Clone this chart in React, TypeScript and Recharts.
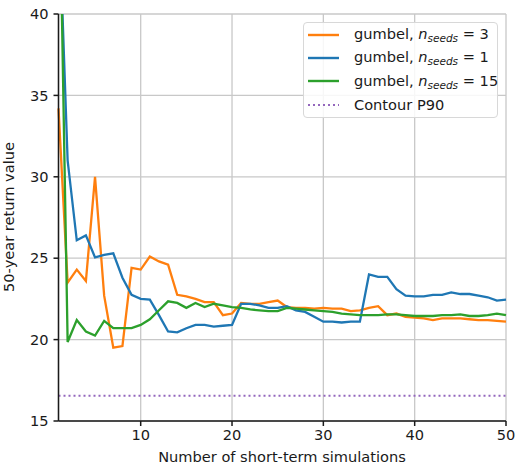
import { Line, LineChart, XAxis, YAxis, CartesianGrid, ReferenceLine } from "recharts"

// number of short-term simulations
const simulations = [
  1, 2, 3, 4, 5, 6, 7, 8, 9, 10,
  11, 12, 13, 14, 15, 16, 17, 18, 19, 20,
  21, 22, 23, 24, 25, 26, 27, 28, 29, 30,
  31, 32, 33, 34, 35, 36, 37, 38, 39, 40,
  41, 42, 43, 44, 45, 46, 47, 48, 49, 50,
]

// gumbel, n_seeds = 3
const seeds3 = [
  34.2, 23.5, 24.3, 23.6, 30.0, 22.7, 19.5, 19.6, 24.4, 24.3,
  25.1, 24.8, 24.6, 22.75, 22.65, 22.5, 22.3, 22.3, 21.5, 21.6,
  22.25, 22.2, 22.2, 22.3, 22.4, 22.0, 21.95, 21.95, 21.9, 21.95,
  21.9, 21.9, 21.75, 21.8, 21.95, 22.05, 21.5, 21.6, 21.4, 21.35,
  21.3, 21.2, 21.3, 21.3, 21.3, 21.25, 21.2, 21.2, 21.15, 21.1,
]

// gumbel, n_seeds = 1
const seeds1 = [
  47.0, 31.0, 26.1, 26.4, 25.05, 25.2, 25.3, 23.8, 22.75, 22.5,
  22.45, 21.5, 20.5, 20.45, 20.7, 20.9, 20.9, 20.8, 20.85, 20.9,
  22.2, 22.2, 22.1, 21.95, 21.95, 22.05, 21.8, 21.7, 21.4, 21.1,
  21.1, 21.05, 21.1, 21.1, 24.0, 23.85, 23.85, 23.1, 22.7, 22.65,
  22.65, 22.75, 22.75, 22.9, 22.8, 22.8, 22.7, 22.6, 22.4, 22.45,
]

// gumbel, n_seeds = 15
const seeds15 = [
  52.0, 19.85, 21.2, 20.5, 20.25, 21.15, 20.7, 20.7, 20.7, 20.9,
  21.25, 21.8, 22.35, 22.25, 21.95, 22.25, 22.0, 22.2, 22.1, 22.0,
  21.95, 21.85, 21.8, 21.75, 21.75, 21.95, 21.9, 21.85, 21.8, 21.75,
  21.7, 21.6, 21.55, 21.5, 21.5, 21.5, 21.55, 21.55, 21.5, 21.45,
  21.45, 21.45, 21.5, 21.5, 21.55, 21.45, 21.45, 21.5, 21.6, 21.5,
]

const contourP90 = 16.55

const xTicks = [10, 20, 30, 40, 50]
const yTicks = [15, 20, 25, 30, 35, 40]

const data = simulations.map((n, i) => ({
  n,
  s3: seeds3[i],
  s1: seeds1[i],
  s15: seeds15[i],
}))

const FONT = "'DejaVu Sans', sans-serif"
const FS = 14.6
const INK = "#1a1a1a"
const ORANGE = "#ff7f0e"
const BLUE = "#1f77b4"
const GREEN = "#2ca02c"
const PURPLE = "#9467bd"

const legendItems = [
  { color: ORANGE, seeds: "3", dotted: false },
  { color: BLUE, seeds: "1", dotted: false },
  { color: GREEN, seeds: "15", dotted: false },
  { color: PURPLE, seeds: "", dotted: true },
]

const renderXLabel = () => (
  <text x={282} y={462} textAnchor="middle" fontSize={FS} fill={INK} fontFamily={FONT}>
    Number of short-term simulations
  </text>
)

const renderYLabel = () => (
  <text x={14} y={217} textAnchor="middle" fontSize={FS} fill={INK} fontFamily={FONT} transform="rotate(-90 14 217)">
    50-year return value
  </text>
)

function ChartLegend() {
  return (
    <div
      style={{
        position: "absolute",
        left: 303,
        top: 22,
        width: 195,
        height: 96,
        border: "1px solid #d8d8d8",
        borderRadius: 4,
        background: "rgba(255,255,255,0.85)",
        fontFamily: FONT,
        fontSize: FS,
        color: INK,
        boxSizing: "border-box",
      }}
    >
      {legendItems.map((item, i) => (
        <div
          key={i}
          style={{ position: "absolute", left: 0, top: 0.5 + i * 23.4, height: 22, display: "flex", alignItems: "center", whiteSpace: "nowrap" }}
        >
          <svg width={36} height={6} style={{ marginLeft: 4 }}>
            <line
              x1={0}
              x2={31}
              y1={3}
              y2={3}
              stroke={item.color}
              strokeWidth={item.dotted ? 2 : 2.4}
              strokeDasharray={item.dotted ? "2 3" : undefined}
            />
          </svg>
          <span style={{ marginLeft: 10 }}>
            {item.dotted ? (
              "Contour P90"
            ) : (
              <>
                gumbel, <i>n</i>
                <sub style={{ fontStyle: "italic", fontSize: 10.5, verticalAlign: -3 }}>seeds</sub> = {item.seeds}
              </>
            )}
          </span>
        </div>
      ))}
    </div>
  )
}

export default function App() {
  return (
    <div style={{ position: "absolute", left: 0, top: 0, width: 515, height: 468, background: "#fff" }}>
      <LineChart width={515} height={468} data={data} margin={{ top: 14, right: 9, left: 0, bottom: 0 }}>
        <CartesianGrid stroke="#c8c8c8" strokeWidth={1.3} />
        <XAxis
          dataKey="n"
          type="number"
          domain={[1, 50]}
          ticks={xTicks}
          height={47}
          tickSize={5}
          tickMargin={4}
          stroke={INK}
          strokeWidth={1.5}
          tick={{ fontSize: FS, fill: INK, fontFamily: FONT }}
          label={renderXLabel}
        />
        <XAxis xAxisId="top" orientation="top" dataKey="n" type="number" domain={[1, 50]} height={0} tick={false} tickLine={false} stroke={INK} strokeWidth={1.5} />
        <YAxis
          type="number"
          domain={[15, 40]}
          ticks={yTicks}
          allowDataOverflow
          width={58.5}
          tickSize={5}
          tickMargin={5}
          stroke={INK}
          strokeWidth={1.5}
          tick={{ fontSize: FS, fill: INK, fontFamily: FONT }}
          label={renderYLabel}
        />
        <YAxis yAxisId="right" orientation="right" domain={[15, 40]} width={0} tick={false} tickLine={false} stroke={INK} strokeWidth={1.5} />
        <Line type="linear" dataKey="s3" stroke={ORANGE} strokeWidth={2.3} dot={false} isAnimationActive={false} />
        <Line type="linear" dataKey="s1" stroke={BLUE} strokeWidth={2.3} dot={false} isAnimationActive={false} />
        <Line type="linear" dataKey="s15" stroke={GREEN} strokeWidth={2.3} dot={false} isAnimationActive={false} />
        <ReferenceLine y={contourP90} stroke={PURPLE} strokeWidth={2} strokeDasharray="2 3" />
      </LineChart>
      <ChartLegend />
    </div>
  )
}
